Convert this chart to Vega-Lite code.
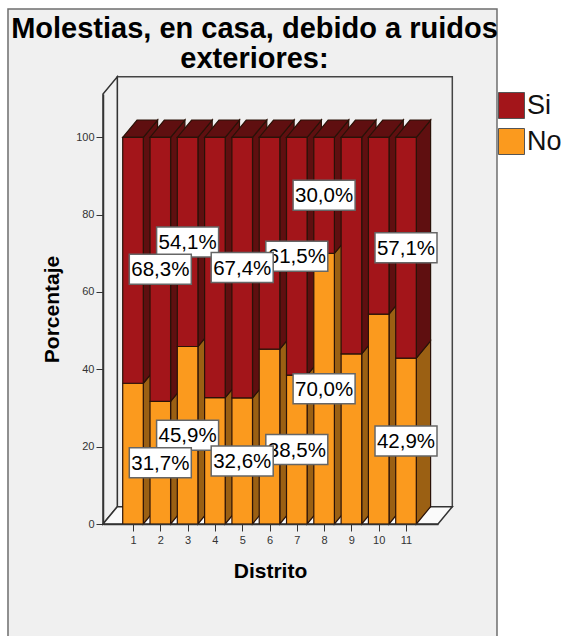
{
  "$schema": "https://vega.github.io/schema/vega-lite/v6.json",
  "autosize": {"type": "none"},
  "width": 335,
  "height": 430,
  "padding": {"left": 103, "top": 94, "right": 128, "bottom": 112},
  "background": "#ffffff",
  "view": {"stroke": null},
  "title": {
    "text": ["Molestias, en casa, debido a ruidos", "exteriores:"],
    "font": "Liberation Sans",
    "fontSize": 29,
    "fontWeight": "bold",
    "color": "#000000",
    "lineHeight": 30,
    "anchor": "middle",
    "frame": "group",
    "dx": -16,
    "dy": 90,
    "offset": 24
  },
  "datasets": {
    "molestias": [
      {"distrito": 1, "respuesta": "No", "pct": 36.4, "rotulado": false},
      {"distrito": 1, "respuesta": "Si", "pct": 63.6, "rotulado": false},
      {"distrito": 2, "respuesta": "No", "pct": 31.7, "rotulado": true},
      {"distrito": 2, "respuesta": "Si", "pct": 68.3, "rotulado": true},
      {"distrito": 3, "respuesta": "No", "pct": 45.9, "rotulado": true},
      {"distrito": 3, "respuesta": "Si", "pct": 54.1, "rotulado": true},
      {"distrito": 4, "respuesta": "No", "pct": 32.7, "rotulado": false},
      {"distrito": 4, "respuesta": "Si", "pct": 67.3, "rotulado": false},
      {"distrito": 5, "respuesta": "No", "pct": 32.6, "rotulado": true},
      {"distrito": 5, "respuesta": "Si", "pct": 67.4, "rotulado": true},
      {"distrito": 6, "respuesta": "No", "pct": 45.2, "rotulado": false},
      {"distrito": 6, "respuesta": "Si", "pct": 54.8, "rotulado": false},
      {"distrito": 7, "respuesta": "No", "pct": 38.5, "rotulado": true},
      {"distrito": 7, "respuesta": "Si", "pct": 61.5, "rotulado": true},
      {"distrito": 8, "respuesta": "No", "pct": 70.0, "rotulado": true},
      {"distrito": 8, "respuesta": "Si", "pct": 30.0, "rotulado": true},
      {"distrito": 9, "respuesta": "No", "pct": 44.0, "rotulado": false},
      {"distrito": 9, "respuesta": "Si", "pct": 56.0, "rotulado": false},
      {"distrito": 10, "respuesta": "No", "pct": 54.3, "rotulado": false},
      {"distrito": 10, "respuesta": "Si", "pct": 45.7, "rotulado": false},
      {"distrito": 11, "respuesta": "No", "pct": 42.9, "rotulado": true},
      {"distrito": 11, "respuesta": "Si", "pct": 57.1, "rotulado": true}
    ]
  },
  "data": {"name": "molestias"},
  "transform": [
    {"stack": "pct", "groupby": ["distrito"], "sort": [{"field": "respuesta", "order": "ascending"}], "as": ["y0", "y1"]},
    {"calculate": "datum.distrito - 0.377", "as": "izq"},
    {"calculate": "datum.distrito + 0.377", "as": "der"},
    {"calculate": "(datum.y0 + datum.y1) / 2", "as": "medio"},
    {"calculate": "replace(format(datum.pct, '.1f'), '.', ',') + '%'", "as": "etiqueta"}
  ],
  "layer": [
    {
      "description": "Panel gris de fondo",
      "data": {"values": [{}]},
      "transform": [],
      "mark": {"type": "rect", "fill": "#f0f0f0", "stroke": "#6e6e6e", "strokeWidth": 1.5, "clip": false},
      "encoding": {
        "x": {"datum": -3.579, "type": "quantitative", "scale": {"domain": [-0.0989, 12.172], "nice": false, "zero": false}},
        "x2": {"datum": 14.333},
        "y": {"datum": -32, "type": "quantitative", "scale": {"domain": [0, 111.2], "nice": false, "zero": false}},
        "y2": {"datum": 133.2}
      }
    },
    {
      "description": "Pared del fondo",
      "data": {"values": [{}]},
      "transform": [],
      "mark": {"type": "rect", "fill": "#f0f0f0", "stroke": "#444444", "strokeWidth": 1.5},
      "encoding": {
        "x": {"datum": 0.4251, "type": "quantitative"},
        "x2": {"datum": 12.696},
        "y": {"datum": 4.47, "type": "quantitative"},
        "y2": {"datum": 115.67}
      }
    },
    {
      "description": "Pared lateral izquierda",
      "data": {"values": [{"cara": 0}, {"cara": 1}]},
      "transform": [
        {"calculate": "-0.0989 + datum.cara * 0.524", "as": "px"},
        {"calculate": "datum.cara * 4.47", "as": "pb"},
        {"calculate": "111.2 + datum.cara * 4.47", "as": "pt"}
      ],
      "mark": {"type": "area", "fill": "#f0f0f0", "stroke": "#333333", "strokeWidth": 1.5},
      "encoding": {
        "x": {"field": "px", "type": "quantitative"},
        "y": {"field": "pb", "type": "quantitative"},
        "y2": {"field": "pt"}
      }
    },
    {
      "description": "Suelo",
      "data": {"values": [{"cara": 0}, {"cara": 1}]},
      "transform": [
        {"calculate": "-0.0989 + datum.cara * 0.524", "as": "sx"},
        {"calculate": "12.172 + datum.cara * 0.524", "as": "sx2"},
        {"calculate": "datum.cara * 4.47", "as": "sy"}
      ],
      "mark": {"type": "area", "orient": "horizontal", "fill": "#fafafa", "stroke": "#333333", "strokeWidth": 1.5},
      "encoding": {
        "y": {"field": "sy", "type": "quantitative"},
        "x": {"field": "sx", "type": "quantitative"},
        "x2": {"field": "sx2"}
      }
    },
    {
      "description": "Caras laterales de cada tramo",
      "transform": [
        {"calculate": "[0, 1]", "as": "cara"},
        {"flatten": ["cara"]},
        {"calculate": "datum.der + datum.cara * 0.524", "as": "lx"},
        {"calculate": "datum.y0 + datum.cara * 4.47", "as": "ly0"},
        {"calculate": "datum.y1 + datum.cara * 4.47", "as": "ly1"}
      ],
      "mark": {"type": "area", "stroke": "#2a1208", "strokeWidth": 1.2},
      "encoding": {
        "x": {"field": "lx", "type": "quantitative"},
        "y": {"field": "ly0", "type": "quantitative"},
        "y2": {"field": "ly1"},
        "detail": [{"field": "distrito"}, {"field": "respuesta"}],
        "fill": {"condition": {"test": "datum.respuesta === 'Si'", "value": "#5f0f10"}, "value": "#9b6013"}
      }
    },
    {
      "description": "Tapas superiores",
      "transform": [
        {"filter": "datum.respuesta === 'Si'"},
        {"calculate": "[0, 1]", "as": "cara"},
        {"flatten": ["cara"]},
        {"calculate": "datum.izq + datum.cara * 0.524", "as": "tx"},
        {"calculate": "datum.der + datum.cara * 0.524", "as": "tx2"},
        {"calculate": "datum.y1 + datum.cara * 4.47", "as": "ty"}
      ],
      "mark": {"type": "area", "orient": "horizontal", "fill": "#5f0f10", "stroke": "#2a1208", "strokeWidth": 1.2},
      "encoding": {
        "y": {"field": "ty", "type": "quantitative"},
        "x": {"field": "tx", "type": "quantitative"},
        "x2": {"field": "tx2"},
        "detail": {"field": "distrito"}
      }
    },
    {
      "description": "Caras frontales y ejes",
      "mark": {"type": "rect", "stroke": "#2a1208", "strokeWidth": 1.2},
      "encoding": {
        "x": {
          "field": "izq",
          "type": "quantitative",
          "axis": {
            "title": "Distrito",
            "values": [1, 2, 3, 4, 5, 6, 7, 8, 9, 10, 11],
            "tickCount": 11,
            "format": "d",
            "grid": false,
            "zindex": 1,
            "domainColor": "#333333",
            "domainWidth": 1.5,
            "tickColor": "#333333",
            "tickSize": 7,
            "tickWidth": 1,
            "labelFont": "Liberation Sans",
            "labelFontSize": 11,
            "labelColor": "#333333",
            "labelPadding": 3,
            "labelFlush": false,
            "labelOverlap": false,
            "titleFont": "Liberation Sans",
            "titleFontSize": 21,
            "titleFontWeight": "bold",
            "titleColor": "#000000",
            "titleX": 167,
            "titleY": 36
          }
        },
        "x2": {"field": "der"},
        "y": {
          "field": "y0",
          "type": "quantitative",
          "axis": {
            "title": "Porcentaje",
            "values": [0, 20, 40, 60, 80, 100],
            "grid": false,
            "zindex": 1,
            "domainColor": "#333333",
            "domainWidth": 1.5,
            "tickColor": "#333333",
            "tickSize": 7,
            "tickWidth": 1,
            "labelFont": "Liberation Sans",
            "labelFontSize": 11,
            "labelColor": "#333333",
            "labelPadding": 2,
            "titleFont": "Liberation Sans",
            "titleFontSize": 21,
            "titleFontWeight": "bold",
            "titleColor": "#000000",
            "titleX": -41,
            "titleY": 215
          }
        },
        "y2": {"field": "y1"},
        "color": {
          "field": "respuesta",
          "type": "nominal",
          "scale": {"domain": ["Si", "No"], "range": ["#a3151a", "#fb9a1e"]},
          "legend": {
            "title": null,
            "orient": "none",
            "legendX": 395,
            "legendY": -2,
            "symbolType": "square",
            "symbolSize": 676,
            "symbolStrokeColor": "#555555",
            "symbolStrokeWidth": 1,
            "labelFont": "Liberation Sans",
            "labelFontSize": 27,
            "labelColor": "#111111",
            "labelOffset": 2,
            "rowPadding": 5,
            "padding": 0
          }
        }
      }
    },
    {
      "description": "Recuadros de los distritos 3, 7, 8 y 11",
      "transform": [{"filter": "datum.rotulado && datum.distrito !== 2 && datum.distrito !== 5"}],
      "mark": {"type": "rect", "width": 62, "height": 30, "fill": "#ffffff", "stroke": "#666666", "strokeWidth": 1.5},
      "encoding": {
        "x": {"field": "distrito", "type": "quantitative"},
        "y": {"field": "medio", "type": "quantitative"}
      }
    },
    {
      "description": "Textos de los distritos 3, 7, 8 y 11",
      "transform": [{"filter": "datum.rotulado && datum.distrito !== 2 && datum.distrito !== 5"}],
      "mark": {"type": "text", "font": "Liberation Sans", "fontSize": 20.5, "color": "#000000", "baseline": "middle", "align": "center", "dy": 1},
      "encoding": {
        "x": {"field": "distrito", "type": "quantitative"},
        "y": {"field": "medio", "type": "quantitative"},
        "text": {"field": "etiqueta"}
      }
    },
    {
      "description": "Recuadros de los distritos 2 y 5",
      "transform": [{"filter": "datum.distrito === 2 || datum.distrito === 5"}],
      "mark": {"type": "rect", "width": 62, "height": 30, "fill": "#ffffff", "stroke": "#666666", "strokeWidth": 1.5},
      "encoding": {
        "x": {"field": "distrito", "type": "quantitative"},
        "y": {"field": "medio", "type": "quantitative"}
      }
    },
    {
      "description": "Textos de los distritos 2 y 5",
      "transform": [{"filter": "datum.distrito === 2 || datum.distrito === 5"}],
      "mark": {"type": "text", "font": "Liberation Sans", "fontSize": 20.5, "color": "#000000", "baseline": "middle", "align": "center", "dy": 1},
      "encoding": {
        "x": {"field": "distrito", "type": "quantitative"},
        "y": {"field": "medio", "type": "quantitative"},
        "text": {"field": "etiqueta"}
      }
    }
  ]
}
